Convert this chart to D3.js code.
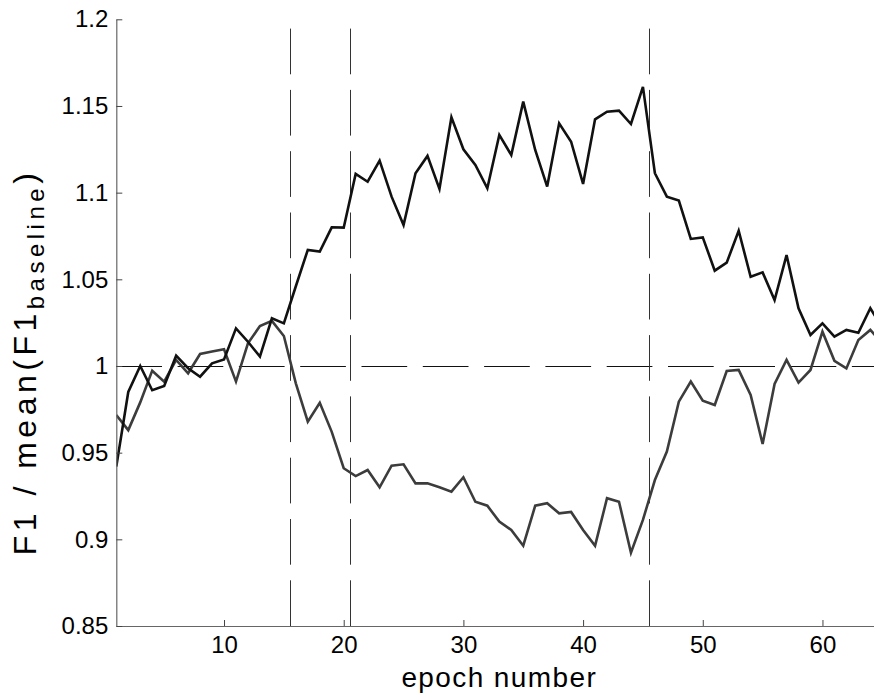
<!DOCTYPE html>
<html>
<head>
<meta charset="utf-8">
<script src="https://cdn.jsdelivr.net/npm/d3@7"></script>
<style>
  body { margin: 0; background: #fff; }
  svg { display: block; font-family: "Liberation Sans", Arial, sans-serif; }
</style>
</head>
<body>
<div id="chart"></div>
<script>
// F1 ratio per epoch (epochs 1..65, last one is cut by the frame)
const blackSeries = [0.942, 0.985, 1.000, 0.986, 0.9885, 1.006, 0.9987, 0.9938, 1.0015, 1.0038,
  1.0217, 1.014, 1.0054, 1.0275, 1.0246, 1.046, 1.067, 1.066, 1.080, 1.0798,
  1.1108, 1.1063, 1.1185, 1.0977, 1.0813, 1.1112, 1.1212, 1.1021, 1.1435, 1.125,
  1.116, 1.1025, 1.1333, 1.1217, 1.1525, 1.1246, 1.1035, 1.140, 1.1294, 1.105,
  1.1423, 1.1467, 1.1473, 1.1396, 1.161, 1.1112, 1.0977, 1.0954, 1.0733, 1.0742,
  1.055, 1.0596, 1.078, 1.0515, 1.054, 1.038, 1.064, 1.0333, 1.0179, 1.0246,
  1.0169, 1.0208, 1.0192, 1.0333, 1.022];

const graySeries = [0.9717, 0.963, 0.979, 0.9973, 0.991, 1.0035, 0.9958, 1.0069, 1.0083, 1.0096,
  0.991, 1.0131, 1.023, 1.026, 1.0173, 0.990, 0.9679, 0.9788, 0.962, 0.941,
  0.9365, 0.940, 0.930, 0.9425, 0.9433, 0.9323, 0.9323, 0.930, 0.9275, 0.9358,
  0.9217, 0.9194, 0.9102, 0.9054, 0.8963, 0.9194, 0.9208, 0.915, 0.9158, 0.9054,
  0.8963, 0.9237, 0.9217, 0.8923, 0.9112, 0.9342, 0.9506, 0.9794, 0.991, 0.980,
  0.9775, 0.9971, 0.9977, 0.9833, 0.955, 0.9896, 1.0035, 0.9904, 0.9977, 1.0198,
  1.003, 0.9986, 1.015, 1.0208, 1.013];

// phase boundaries (vertical dashed lines) and reference level
const boundaries = [15.5, 20.5, 45.5];
const baselineLevel = 1;

const xTicks = [10, 20, 30, 40, 50, 60];
const yTicks = [0.85, 0.9, 0.95, 1, 1.05, 1.1, 1.15, 1.2];

function draw() {
  const width = 874, height = 694;
  const margin = {top: 19.3, left: 116.3};
  const plotRight = 882.3;   // axis runs past the frame edge
  const plotBottom = 626;

  const x = d3.scaleLinear().domain([1, 65]).range([margin.left, plotRight]);
  const y = d3.scaleLinear().domain([0.85, 1.2]).range([plotBottom, margin.top]);

  const svg = d3.select('#chart').append('svg')
      .attr('width', width)
      .attr('height', height);

  svg.append('defs').append('clipPath').attr('id', 'plot')
    .append('rect')
      .attr('x', margin.left).attr('y', margin.top)
      .attr('width', plotRight - margin.left)
      .attr('height', plotBottom - margin.top);

  // reference lines
  const dash = '45.7,15.6';
  svg.append('line')
      .attr('x1', x(1)).attr('x2', x(65))
      .attr('y1', Math.round(y(baselineLevel)) + 0.5).attr('y2', Math.round(y(baselineLevel)) + 0.5)
      .attr('stroke', '#111').attr('stroke-width', 1)
      .attr('stroke-dasharray', dash);

  // drawn bottom-up so the dash pattern starts at the x axis
  svg.append('g').selectAll('line')
    .data(boundaries)
    .join('line')
      .attr('x1', d => Math.round(x(d)) + 0.5).attr('x2', d => Math.round(x(d)) + 0.5)
      .attr('y1', y(0.85)).attr('y2', y(1.2))
      .attr('stroke', '#333').attr('stroke-width', 1)
      .attr('stroke-dasharray', dash);

  // series
  const line = d3.line()
      .x((d, i) => x(i + 1))
      .y(d => y(d));

  const lines = svg.append('g').attr('clip-path', 'url(#plot)');
  lines.append('path')
      .attr('d', line(graySeries))
      .attr('fill', 'none')
      .attr('stroke', '#3c3c3c')
      .attr('stroke-width', 2.6);
  lines.append('path')
      .attr('d', line(blackSeries))
      .attr('fill', 'none')
      .attr('stroke', '#111')
      .attr('stroke-width', 2.6);

  // axes, ticks pointing inward
  const xAxis = svg.append('g')
      .attr('transform', `translate(0, ${plotBottom})`)
      .call(d3.axisBottom(x).tickValues(xTicks).tickSizeInner(-6).tickSizeOuter(0).tickPadding(10));
  const yAxis = svg.append('g')
      .attr('transform', `translate(${margin.left}, 0)`)
      .call(d3.axisLeft(y).tickValues(yTicks).tickFormat(d => String(d)).tickSizeInner(-6).tickSizeOuter(0).tickPadding(8));

  [xAxis, yAxis].forEach(g => {
    g.attr('font-family', null).attr('font-size', null);
    g.select('.domain').attr('stroke', '#666').attr('stroke-width', 1.2);
    g.selectAll('.tick line').attr('stroke', '#444').attr('stroke-width', 1);
    g.selectAll('.tick text').attr('fill', '#000').style('font-size', '24px');
  });

  // axis labels
  svg.append('text')
      .attr('x', x(33))
      .attr('y', 687)
      .attr('text-anchor', 'middle')
      .style('font-size', '28px')
      .style('letter-spacing', '1.4px')
      .text('epoch number');

  const yl = svg.append('text')
      .attr('transform', `translate(36, 362) rotate(-90)`)
      .attr('text-anchor', 'middle')
      .style('font-size', '32px')
      .style('letter-spacing', '4.5px');
  yl.append('tspan').text('F1 / mean(F1');
  yl.append('tspan').attr('dy', 8).style('font-size', '24px').text('baseline');
  yl.append('tspan').attr('dy', -8).text(')');
}

window.onload = draw;
</script>
</body>
</html>
